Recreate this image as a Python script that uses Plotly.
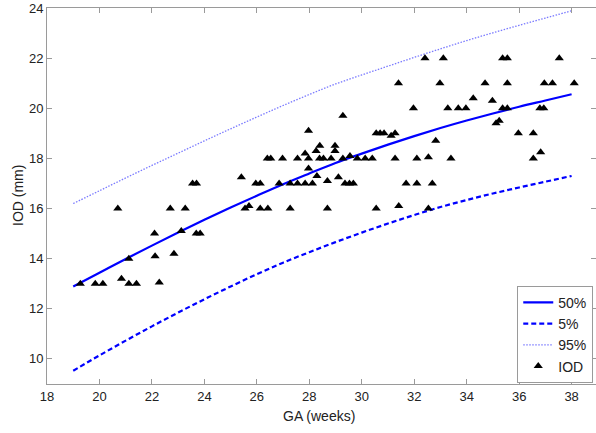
import plotly.graph_objects as go

# Percentile curves (read at integer GA weeks)
ga_curve = [19, 20, 21, 22, 23, 24, 25, 26, 27, 28, 29, 30, 31, 32, 33, 34, 35, 36, 37, 38]
p50 = [12.89, 13.44, 13.99, 14.52, 15.04, 15.55, 16.04, 16.51, 16.97, 17.40,
       17.82, 18.19, 18.55, 18.89, 19.21, 19.51, 19.79, 20.06, 20.31, 20.56]
p5 = [9.53, 10.14, 10.73, 11.30, 11.85, 12.38, 12.89, 13.38, 13.84, 14.26,
      14.66, 15.04, 15.40, 15.74, 16.06, 16.34, 16.60, 16.84, 17.07, 17.30]
p95 = [16.20, 16.71, 17.22, 17.72, 18.21, 18.70, 19.18, 19.65, 20.11, 20.55,
       20.97, 21.33, 21.68, 22.03, 22.37, 22.70, 23.01, 23.31, 23.60, 23.89]

# Measured IOD points
iod_ga = [19.27, 19.84, 20.13, 20.84, 21.12, 21.41, 21.12, 22.10, 22.12, 22.28,
          22.84, 23.12, 23.69, 23.84, 20.70, 22.70, 23.27, 23.55, 23.70, 25.41,
          25.55, 25.70, 25.96, 26.13, 26.13, 26.42, 26.40, 26.53, 26.85, 26.98,
          27.27, 27.27, 27.55, 27.55, 27.84, 27.84, 27.97, 27.97, 27.97, 28.12,
          28.26, 28.29, 28.40, 28.39, 28.54, 28.69, 28.69, 28.83, 28.98, 28.98,
          29.11, 29.28, 29.28, 29.36, 29.53, 29.55, 29.68, 29.83, 30.13, 30.40,
          30.55, 30.70, 30.85, 30.55, 31.12, 31.27, 31.27, 31.40, 31.41, 31.69,
          31.97, 32.10, 32.10, 32.41, 32.54, 32.54, 32.69, 32.82, 32.98, 33.11,
          33.28, 33.40, 33.68, 33.97, 34.25, 34.70, 34.98, 35.12, 35.24, 35.37,
          35.55, 35.37, 35.55, 35.55, 35.97, 36.54, 36.54, 36.82, 36.79, 36.94,
          36.96, 37.27, 37.53, 38.10]
iod_mm = [13.0, 13.0, 13.0, 13.2, 13.0, 13.0, 14.0, 15.0, 14.1, 13.05,
          14.2, 15.1, 15.0, 15.0, 16.0, 16.0, 16.0, 17.0, 17.0, 17.25,
          16.0, 16.1, 17.0, 17.0, 16.0, 16.0, 18.0, 18.0, 17.0, 18.0,
          17.0, 16.0, 18.0, 17.0, 18.2, 17.0, 18.0, 19.1, 17.6, 17.0,
          18.3, 17.3, 18.5, 18.0, 18.0, 17.1, 16.0, 18.0, 18.5, 18.3,
          17.25, 19.7, 18.0, 17.0, 17.0, 18.1, 17.0, 18.0, 18.0, 18.0,
          19.0, 19.0, 19.0, 16.0, 18.9, 19.0, 18.0, 21.0, 16.1, 17.0,
          20.0, 17.0, 18.0, 22.0, 18.05, 16.0, 17.0, 18.7, 21.0, 22.0,
          20.0, 18.0, 20.0, 20.0, 20.4, 21.0, 20.3, 19.4, 19.5, 22.0,
          22.0, 20.0, 20.0, 21.0, 19.0, 19.0, 18.0, 18.25, 20.0, 20.0,
          21.0, 21.0, 22.0, 21.0]

x_ticks = [18, 20, 22, 24, 26, 28, 30, 32, 34, 36, 38]
y_ticks = [10, 12, 14, 16, 18, 20, 22, 24]

FONT = "Liberation Sans, Arial, Helvetica, sans-serif"

fig = go.Figure()
fig.add_trace(go.Scatter(x=ga_curve, y=p50, mode="lines", name="50%",
                         line=dict(color="#0000ff", width=2.2, shape="spline")))
fig.add_trace(go.Scatter(x=ga_curve, y=p5, mode="lines", name="5%",
                         line=dict(color="#0000ff", width=2.2, dash="5px,3px", shape="spline")))
fig.add_trace(go.Scatter(x=ga_curve, y=p95, mode="lines", name="95%",
                         line=dict(color="#7a7aff", width=1.3, dash="1.5px,1.5px", shape="spline")))
fig.add_trace(go.Scatter(x=iod_ga, y=iod_mm, mode="markers", name="IOD",
                         marker=dict(symbol="triangle-up", color="black", size=8,
                                     line=dict(width=0))))

axis_common = dict(showgrid=False, zeroline=False, showline=True, linecolor="#9a9a9a",
                   linewidth=1, ticks="inside", ticklen=5, tickcolor="#9a9a9a",
                   mirror="ticks", tickfont=dict(family=FONT, size=13, color="#222"))

fig.update_xaxes(range=[18, 38.93], tickvals=x_ticks, ticktext=[str(v) for v in x_ticks],
                 **axis_common)
fig.update_yaxes(range=[9, 24], tickvals=y_ticks, ticktext=[str(v) for v in y_ticks],
                 **axis_common)

fig.update_layout(
    width=596, height=433,
    margin=dict(l=47, r=0, t=8, b=49),
    paper_bgcolor="white", plot_bgcolor="white",
    font=dict(family=FONT, size=14, color="#222"),
    showlegend=True,
    legend=dict(x=0.995, xanchor="right", y=0.003, yanchor="bottom",
                bgcolor="white", bordercolor="#9a9a9a", borderwidth=1,
                font=dict(family=FONT, size=14, color="#222"),
                tracegroupgap=0, itemwidth=30),
    annotations=[
        dict(text="GA (weeks)", xref="paper", yref="paper", x=0.495, y=0,
             yshift=-32, xanchor="center", yanchor="middle", showarrow=False,
             font=dict(family=FONT, size=14, color="#222")),
        dict(text="IOD (mm)", xref="paper", yref="paper", x=0, y=0.5,
             xshift=-29, xanchor="center", yanchor="middle", textangle=-90,
             showarrow=False, font=dict(family=FONT, size=14, color="#222")),
    ],
)

# Remove the default 8px page margin so the figure sits at the window origin.
fig.write_html("out.html", config={"displayModeBar": False},
               post_script="document.body.style.margin='0';")
